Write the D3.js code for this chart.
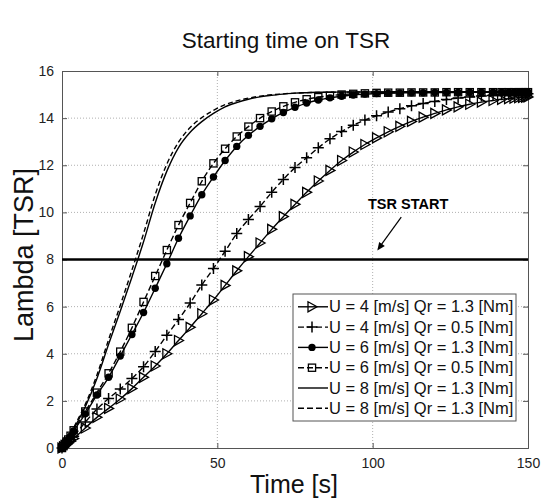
<!DOCTYPE html>
<html>
<head>
<meta charset="utf-8">
<script src="https://cdn.jsdelivr.net/npm/d3@7/dist/d3.min.js"></script>
<style>
  body { margin: 0; background: #fff; }
  svg text { font-family: "Liberation Sans", Arial, sans-serif; }
</style>
</head>
<body>
<div id="chart"><svg width="541" height="498"></svg></div>
<script>
// sample times [s] (solver steps are denser near start and end)
var time = [0, 0.5, 1, 1.5, 2, 2.75, 3.75, 7.5, 11.25, 15, 18.75, 22.5, 26.25, 30, 33.75, 37.5,
    41.25, 45, 48.75, 52.5, 56.25, 60, 63.75, 67.5, 71.25, 75, 78.75, 82.5, 86.25, 90, 93.75,
    97.5, 101.25, 105, 108.75, 112.5, 116.25, 120, 123.75, 127.5, 131.25, 135, 138.75,
    141.5, 143.75, 145.5, 147, 148.25, 149.25, 150];

// U = 4 m/s, Qr = 1.3 Nm (triangles)
var u4q13 = [0, 0.05, 0.1, 0.15, 0.21, 0.29, 0.4, 0.85, 1.3, 1.68, 2.08, 2.52, 3.0, 3.48, 4.0, 4.56,
    5.12, 5.7, 6.28, 6.9, 7.52, 8.12, 8.7, 9.28, 9.82, 10.34, 10.85, 11.33, 11.78, 12.2, 12.56,
    12.88, 13.16, 13.42, 13.65, 13.86, 14.04, 14.2, 14.35, 14.48, 14.59, 14.68, 14.75,
    14.8, 14.83, 14.85, 14.87, 14.88, 14.89, 14.9];
// U = 4 m/s, Qr = 0.5 Nm (plus)
var u4q05 = [0, 0.06, 0.12, 0.19, 0.26, 0.36, 0.5, 1.1, 1.65, 2.1, 2.5, 2.95, 3.45, 4.1, 4.78, 5.45,
    6.15, 6.92, 7.62, 8.35, 9.1, 9.7, 10.25, 10.85, 11.4, 11.9, 12.32, 12.74, 13.12, 13.43, 13.7,
    13.92, 14.1, 14.26, 14.4, 14.52, 14.62, 14.71, 14.79, 14.85, 14.9, 14.94, 14.97,
    14.99, 15.0, 15.01, 15.02, 15.02, 15.03, 15.03];
// U = 6 m/s, Qr = 1.3 Nm (filled circles)
var u6q13 = [0, 0.08, 0.17, 0.26, 0.35, 0.5, 0.72, 1.45, 2.25, 3.0, 3.9, 4.82, 5.75, 6.78, 7.82, 8.9,
    9.85, 10.75, 11.5, 12.2, 12.8, 13.27, 13.65, 13.97, 14.24, 14.46, 14.64, 14.77, 14.86, 14.93, 14.98,
    15.02, 15.04, 15.06, 15.07, 15.08, 15.08, 15.09, 15.09, 15.09, 15.1, 15.1, 15.1,
    15.1, 15.1, 15.1, 15.1, 15.1, 15.1, 15.1];
// U = 6 m/s, Qr = 0.5 Nm (squares)
var u6q05 = [0, 0.08, 0.17, 0.27, 0.36, 0.52, 0.75, 1.55, 2.35, 3.17, 4.09, 5.1, 6.2, 7.3, 8.4, 9.46,
    10.4, 11.32, 12.08, 12.7, 13.22, 13.64, 14.0, 14.28, 14.5, 14.67, 14.8, 14.89, 14.95, 15.0, 15.03,
    15.05, 15.07, 15.08, 15.08, 15.09, 15.09, 15.09, 15.1, 15.1, 15.1, 15.1, 15.1,
    15.1, 15.1, 15.1, 15.1, 15.1, 15.1, 15.1];
// U = 8 m/s, Qr = 1.3 Nm (solid)
var u8solid = [0, 0.08, 0.17, 0.27, 0.37, 0.53, 0.8, 1.75, 2.95, 4.4, 5.8, 7.25, 8.75, 10.4, 11.75, 12.75,
    13.4, 13.85, 14.2, 14.48, 14.66, 14.8, 14.9, 14.97, 15.02, 15.06, 15.08, 15.1, 15.1, 15.11, 15.11,
    15.11, 15.11, 15.12, 15.12, 15.12, 15.12, 15.12, 15.12, 15.12, 15.12, 15.12, 15.12,
    15.12, 15.12, 15.12, 15.12, 15.12, 15.12, 15.12];
// U = 8 m/s, Qr = 1.3 Nm (dashed)
var u8dash = [0, 0.09, 0.18, 0.28, 0.39, 0.56, 0.85, 1.85, 3.1, 4.6, 6.05, 7.55, 9.1, 10.75, 12.05, 12.98,
    13.6, 14.02, 14.33, 14.57, 14.73, 14.85, 14.93, 14.99, 15.03, 15.06, 15.08, 15.09, 15.1, 15.1, 15.11,
    15.11, 15.11, 15.11, 15.12, 15.12, 15.12, 15.12, 15.12, 15.12, 15.12, 15.12, 15.12,
    15.12, 15.12, 15.12, 15.12, 15.12, 15.12, 15.12];

var legendLabels = ["U = 4 [m/s] Qr = 1.3 [Nm]", "U = 4 [m/s] Qr = 0.5 [Nm]", "U = 6 [m/s] Qr = 1.3 [Nm]",
    "U = 6 [m/s] Qr = 0.5 [Nm]", "U = 8 [m/s] Qr = 1.3 [Nm]", "U = 8 [m/s] Qr = 1.3 [Nm]"];
var xTicks = [0, 50, 100, 150];
var yTicks = [0, 2, 4, 6, 8, 10, 12, 14, 16];
var tsrStart = 8;

var series = [
    {values: u4q13, dash: null, marker: "tri"},
    {values: u4q05, dash: "6,3", marker: "plus"},
    {values: u6q13, dash: null, marker: "dot"},
    {values: u6q05, dash: "6,3", marker: "sq"},
    {values: u8solid, dash: null, marker: null},
    {values: u8dash, dash: "5,3", marker: null}
];

var svg = d3.select("#chart").select("svg"),
    margin = {top: 71, right: 13, bottom: 50, left: 62},
    width  = +svg.attr("width")  - margin.left - margin.right,
    height = +svg.attr("height") - margin.top  - margin.bottom,
    xScale = d3.scaleLinear().domain([0, 150]).range([0, width]),
    yScale = d3.scaleLinear().domain([0, 16]).range([height, 0]),
    g = svg.append("g").attr("transform", `translate(${margin.left},${margin.top})`);

// grid
g.selectAll(".gy").data(yTicks.slice(1, -1)).enter().append("line")
    .attr("x1", 0).attr("x2", width)
    .attr("y1", d => yScale(d)).attr("y2", d => yScale(d))
    .attr("stroke", "#b0b0b0").attr("stroke-width", 1).attr("stroke-dasharray", "1,2");
g.selectAll(".gx").data(xTicks.slice(1, -1)).enter().append("line")
    .attr("y1", 0).attr("y2", height)
    .attr("x1", d => xScale(d)).attr("x2", d => xScale(d))
    .attr("stroke", "#b0b0b0").attr("stroke-width", 1).attr("stroke-dasharray", "1,2");

// axes, ticks inside like matlab
var axisCol = "#555";
g.append("g").attr("transform", `translate(0,${height})`)
    .call(d3.axisBottom(xScale).tickValues(xTicks).tickSize(-5).tickPadding(10).tickFormat(d3.format("d")));
g.append("g")
    .call(d3.axisLeft(yScale).tickValues(yTicks).tickSize(-5).tickPadding(8).tickFormat(d3.format("d")));
g.append("g")
    .call(d3.axisTop(xScale).tickValues(xTicks).tickSize(-5).tickFormat(""));
g.append("g").attr("transform", `translate(${width},0)`)
    .call(d3.axisRight(yScale).tickValues(yTicks).tickSize(-5).tickFormat(""));
g.selectAll(".domain").attr("stroke", axisCol);
g.selectAll(".tick line").attr("stroke", axisCol);
g.selectAll(".tick text").attr("font-size", "14px").attr("fill", "#222")
    .style("font-family", "Liberation Sans, Arial, sans-serif");

// tsr start line
g.append("line")
    .attr("x1", xScale(0)).attr("x2", xScale(150))
    .attr("y1", yScale(tsrStart)).attr("y2", yScale(tsrStart))
    .attr("stroke", "#000").attr("stroke-width", 2.6);

// curves
var line = d3.line().x((d, i) => xScale(time[i])).y(d => yScale(d)).curve(d3.curveMonotoneX);

function drawMarker(sel, type) {
    if (type == "tri") {
        sel.append("path").attr("d", "M-4,-5L5,0L-4,5Z")
            .attr("fill", "none").attr("stroke", "#000").attr("stroke-width", 1.3);
    } else if (type == "plus") {
        sel.append("path").attr("d", "M-5.5,0H5.5M0,-5.5V5.5")
            .attr("fill", "none").attr("stroke", "#000").attr("stroke-width", 1.5);
    } else if (type == "dot") {
        sel.append("circle").attr("r", 3.7).attr("fill", "#000");
    } else if (type == "sq") {
        sel.append("rect").attr("x", -3.6).attr("y", -3.6).attr("width", 7.2).attr("height", 7.2)
            .attr("fill", "none").attr("stroke", "#000").attr("stroke-width", 1.3);
    }
}

series.forEach(s => {
    g.append("path")
        .datum(s.values)
        .attr("fill", "none")
        .attr("stroke", "#000")
        .attr("stroke-width", 1.4)
        .attr("stroke-dasharray", s.dash)
        .attr("d", line);
    if (s.marker) {
        g.selectAll(null)
            .data(s.values)
            .enter().append("g")
            .attr("transform", (d, i) => `translate(${xScale(time[i])},${yScale(d)})`)
            .each(function() { drawMarker(d3.select(this), s.marker); });
    }
});

// annotation
g.append("text")
    .attr("x", xScale(98.5)).attr("y", yScale(10.15))
    .attr("font-size", "14.5px").attr("font-weight", "bold")
    .text("TSR START");
g.append("line")
    .attr("x1", xScale(109.2)).attr("y1", yScale(9.8))
    .attr("x2", xScale(101.8)).attr("y2", yScale(8.45))
    .attr("stroke", "#000").attr("stroke-width", 1.2);
g.append("path")
    .attr("transform", `translate(${xScale(101.5)},${yScale(8.38)}) rotate(${Math.atan2(32, -23) * 180 / Math.PI})`)
    .attr("d", "M0,0L-8,-3.5L-8,3.5Z")
    .attr("fill", "#000");

// legend
var lg = svg.append("g").attr("transform", "translate(293,294)");
lg.append("rect").attr("width", 223).attr("height", 127)
    .attr("fill", "#fff").attr("stroke", "#555").attr("stroke-width", 1);
var rows = lg.selectAll(".row").data(series).enter().append("g")
    .attr("transform", (d, i) => `translate(0,${12.8 + i * 20.3})`);
rows.append("line")
    .attr("x1", 5).attr("x2", 35).attr("y1", 0).attr("y2", 0)
    .attr("stroke", "#000").attr("stroke-width", 1.4)
    .attr("stroke-dasharray", d => d.dash ? "6,3" : null);
rows.append("g").attr("transform", "translate(19,0)")
    .each(function(d) { if (d.marker) drawMarker(d3.select(this), d.marker); });
rows.append("text")
    .attr("x", 36).attr("y", 5.5)
    .attr("font-size", "16.5px").attr("fill", "#111")
    .text((d, i) => legendLabels[i]);

// titles
svg.append("text")
    .attr("x", 286).attr("y", 48)
    .attr("text-anchor", "middle").attr("font-size", "22.5px").attr("fill", "#111")
    .text("Starting time on TSR");
svg.append("text")
    .attr("x", 294).attr("y", 493)
    .attr("text-anchor", "middle").attr("font-size", "25px").attr("fill", "#111")
    .text("Time [s]");
svg.append("text")
    .attr("transform", "translate(33,255) rotate(-90)")
    .attr("text-anchor", "middle").attr("font-size", "27px").attr("fill", "#111")
    .text("Lambda [TSR]");
</script>
</body>
</html>
